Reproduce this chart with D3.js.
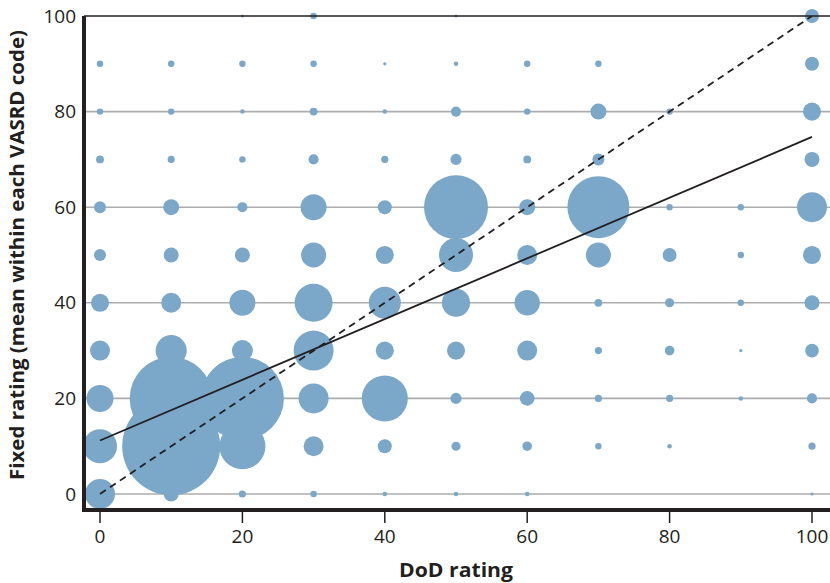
<!DOCTYPE html>
<html>
<head>
<meta charset="utf-8">
<script src="https://cdn.jsdelivr.net/npm/d3@7"></script>
<style>
  body { margin: 0; background: #fff; }
  svg text { font-family: "Open Sans", "Noto Sans", sans-serif; fill: #231f20; }
</style>
</head>
<body>
<script>
'use strict';

// DoD rating (x) and fixed rating (y) levels
const dodLevels = [0, 10, 20, 30, 40, 50, 60, 70, 80, 90, 100];
const fixedLevels = [100, 90, 80, 70, 60, 50, 40, 30, 20, 10, 0];

// number of codes at each (fixed row, dod column), rows follow fixedLevels
const counts = [
  [0, 0, 1, 4, 0, 1, 0, 0, 0, 0, 19],
  [4, 4, 4, 4, 1, 2, 4, 4, 0, 0, 19],
  [4, 4, 2, 6, 2, 10, 4, 25, 4, 0, 32],
  [6, 5, 4, 10, 5, 12, 6, 14, 0, 0, 22],
  [14, 25, 10, 66, 19, 400, 25, 375, 4, 4, 88],
  [14, 22, 22, 61, 32, 113, 39, 61, 19, 4, 32],
  [32, 39, 66, 141, 100, 77, 63, 6, 8, 4, 22],
  [39, 94, 43, 156, 32, 32, 39, 5, 9, 1, 18],
  [71, 673, 673, 88, 207, 12, 21, 5, 5, 2, 10],
  [113, 938, 207, 39, 19, 8, 9, 4, 2, 0, 5],
  [88, 22, 5, 4, 2, 2, 2, 0, 0, 0, 1]
];

const xTicks = [0, 20, 40, 60, 80, 100];
const yTicks = [0, 20, 40, 60, 80, 100];
const gridValues = [0, 20, 40, 60, 80];

// fitted line and 45-degree reference
const fitIntercept = 11.2;
const fitSlope = 0.635;
const identityLine = [[0, 0], [100, 100]];

const width = 830, height = 583;

const svg = d3.select('body').append('svg')
  .attr('width', width)
  .attr('height', height);

const x = d3.scaleLinear().domain([0, 100]).range([100, 812]);
const y = d3.scaleLinear().domain([0, 100]).range([494, 16]);
const r = d3.scaleSqrt().domain([0, 938]).range([0, 49]);

const axisX = 84, axisY = 510;

// gridlines
svg.append('g')
  .selectAll('line')
  .data(gridValues)
  .join('line')
  .attr('x1', axisX).attr('x2', width)
  .attr('y1', d => y(d)).attr('y2', d => y(d))
  .attr('stroke', '#adadad')
  .attr('stroke-width', 1.6);

// bubbles
let cells = [];
fixedLevels.forEach((fy, i) => {
  dodLevels.forEach((dx, j) => {
    if (counts[i][j] > 0) cells.push({x: dx, y: fy, n: counts[i][j]});
  });
});
cells.sort((a, b) => b.n - a.n);

svg.append('g')
  .selectAll('circle')
  .data(cells)
  .join('circle')
  .attr('cx', d => x(d.x))
  .attr('cy', d => y(d.y))
  .attr('r', d => r(d.n))
  .attr('fill', '#7ba7c9');

// top line at 100
svg.append('line')
  .attr('x1', axisX).attr('x2', width)
  .attr('y1', y(100)).attr('y2', y(100))
  .attr('stroke', '#231f20')
  .attr('stroke-width', 1.4);

// fitted + identity lines
svg.append('line')
  .attr('x1', x(0)).attr('y1', y(fitIntercept))
  .attr('x2', x(100)).attr('y2', y(fitIntercept + fitSlope * 100))
  .attr('stroke', '#231f20')
  .attr('stroke-width', 1.8);

svg.append('path')
  .attr('d', d3.line().x(d => x(d[0])).y(d => y(d[1]))(identityLine))
  .attr('fill', 'none')
  .attr('stroke', '#231f20')
  .attr('stroke-width', 1.8)
  .attr('stroke-dasharray', '7,5');

// axes frame
svg.append('line')
  .attr('x1', axisX).attr('x2', axisX)
  .attr('y1', y(100)).attr('y2', axisY + 2)
  .attr('stroke', '#231f20')
  .attr('stroke-width', 4);

svg.append('line')
  .attr('x1', axisX - 2).attr('x2', width)
  .attr('y1', axisY).attr('y2', axisY)
  .attr('stroke', '#231f20')
  .attr('stroke-width', 4);

// x ticks
const xt = svg.append('g')
  .selectAll('g')
  .data(xTicks)
  .join('g')
  .attr('transform', d => `translate(${x(d)},0)`);
xt.append('line')
  .attr('y1', axisY + 2).attr('y2', axisY + 13)
  .attr('stroke', '#231f20')
  .attr('stroke-width', 1.5);
xt.append('text')
  .attr('y', 543)
  .attr('text-anchor', 'middle')
  .style('font-size', '19px')
  .text(d => d);

// y labels
svg.append('g')
  .selectAll('text')
  .data(yTicks)
  .join('text')
  .attr('x', 76)
  .attr('y', d => y(d))
  .attr('dy', '0.35em')
  .attr('text-anchor', 'end')
  .style('font-size', '19px')
  .text(d => d);

// titles
svg.append('text')
  .attr('x', 456)
  .attr('y', 577)
  .attr('text-anchor', 'middle')
  .attr('textLength', 114)
  .attr('lengthAdjust', 'spacingAndGlyphs')
  .style('font-size', '20px')
  .style('font-weight', 'bold')
  .text('DoD rating');

svg.append('text')
  .attr('transform', 'translate(24,255) rotate(-90)')
  .attr('text-anchor', 'middle')
  .attr('textLength', 450)
  .attr('lengthAdjust', 'spacingAndGlyphs')
  .style('font-size', '19px')
  .style('font-weight', 'bold')
  .text('Fixed rating (mean within each VASRD code)');
</script>
</body>
</html>
